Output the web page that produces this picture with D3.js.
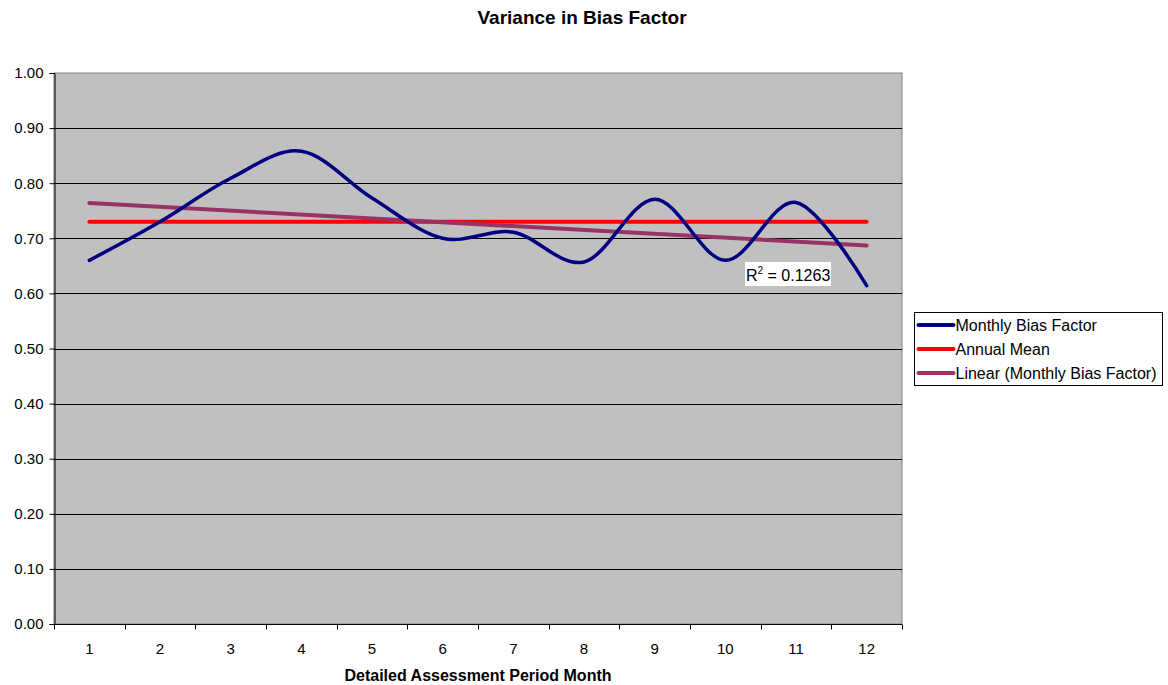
<!DOCTYPE html>
<html>
<head>
<meta charset="utf-8">
<script src="https://cdn.jsdelivr.net/npm/d3@7"></script>
<style>
  html, body { margin: 0; padding: 0; background: #fff; }
  svg { display: block; font-family: "Liberation Sans", Arial, sans-serif; }
</style>
</head>
<body>
<svg id="chart" width="1168" height="685"></svg>
<script>
// Months of the detailed assessment period
const months = [1, 2, 3, 4, 5, 6, 7, 8, 9, 10, 11, 12];
// Monthly bias factor
const biasFactor = [0.660, 0.730, 0.809, 0.858, 0.773, 0.700, 0.711, 0.657, 0.771, 0.660, 0.765, 0.614];
// Annual mean (flat reference line)
const annualMean = [0.73, 0.73, 0.73, 0.73, 0.73, 0.73, 0.73, 0.73, 0.73, 0.73, 0.73, 0.73];
// Y axis ticks
const yTicks = [0, 0.1, 0.2, 0.3, 0.4, 0.5, 0.6, 0.7, 0.8, 0.9, 1.0];
const seriesNames = ["Monthly Bias Factor", "Annual Mean", "Linear (Monthly Bias Factor)"];
const rSquaredText = "0.1263";

const svg = d3.select("#chart");
const plot = { left: 54, right: 902, top: 73, bottom: 624 };

const x = d3.scaleBand().domain(months).range([plot.left, plot.right]);
const xc = m => x(m) + x.bandwidth() / 2;
const y = d3.scaleLinear().domain([0, 1]).range([plot.bottom, plot.top]);

// Plot area
svg.append("rect")
  .attr("x", plot.left).attr("y", plot.top)
  .attr("width", plot.right - plot.left).attr("height", plot.bottom - plot.top)
  .attr("fill", "#c0c0c0").attr("stroke", "#808080").attr("stroke-width", 1);

// Horizontal gridlines
svg.append("g").selectAll("line")
  .data(yTicks.filter(t => t > 0 && t < 1))
  .join("line")
  .attr("x1", plot.left).attr("x2", plot.right)
  .attr("y1", d => Math.round(y(d)) + 0.5).attr("y2", d => Math.round(y(d)) + 0.5)
  .attr("stroke", "#000").attr("stroke-width", 1);

// Y axis
const yAxis = svg.append("g")
  .attr("transform", `translate(${plot.left + 0.5},0)`)
  .call(d3.axisLeft(y).tickValues(yTicks).tickFormat(d3.format(".2f")).tickSize(5).tickPadding(6));
yAxis.select(".domain").attr("stroke", "#000");
yAxis.selectAll(".tick line").attr("stroke", "#000");
yAxis.selectAll(".tick text").attr("font-size", 15).attr("fill", "#000")
  .attr("font-family", "Liberation Sans, Arial, sans-serif");

// X axis: ticks on category boundaries, labels centred in each band
const xg = svg.append("g").attr("transform", `translate(0,${plot.bottom + 0.5})`);
xg.append("line").attr("x1", plot.left).attr("x2", plot.right).attr("stroke", "#000");
const boundaries = months.map(m => x(m)).concat([plot.right]);
xg.selectAll("line.tk").data(boundaries).join("line").attr("class", "tk")
  .attr("x1", d => Math.round(d) + 0.5).attr("x2", d => Math.round(d) + 0.5)
  .attr("y1", 0).attr("y2", 5).attr("stroke", "#000");
xg.selectAll("text").data(months).join("text")
  .attr("x", d => xc(d)).attr("y", 29)
  .attr("text-anchor", "middle").attr("font-size", 15).attr("fill", "#000")
  .text(d => d);

// Linear trend from least-squares fit of the monthly bias factor
const mx = d3.mean(months), my = d3.mean(biasFactor);
const sxy = d3.sum(months, (m, i) => (m - mx) * (biasFactor[i] - my));
const sxx = d3.sum(months, m => (m - mx) * (m - mx));
const slope = sxy / sxx, intercept = my - slope * mx;
const trend = [months[0], months[months.length - 1]].map(m => ({ m, v: intercept + slope * m }));

const straight = d3.line().x(d => xc(d.m)).y(d => y(d.v));

// Annual mean
svg.append("path")
  .datum(months.map((m, i) => ({ m, v: annualMean[i] })))
  .attr("d", straight).attr("fill", "none")
  .attr("stroke", "#ff0000").attr("stroke-width", 4).attr("stroke-linecap", "round");

// Trend line
svg.append("path")
  .datum(trend)
  .attr("d", straight).attr("fill", "none")
  .attr("stroke", "#993366").attr("stroke-width", 4).attr("stroke-linecap", "round");

// Monthly bias factor (smoothed)
const smooth = d3.line().x(d => xc(d.m)).y(d => y(d.v)).curve(d3.curveCardinal.tension(0));
svg.append("path")
  .datum(months.map((m, i) => ({ m, v: biasFactor[i] })))
  .attr("d", smooth).attr("fill", "none")
  .attr("stroke", "#000080").attr("stroke-width", 3.5)
  .attr("stroke-linecap", "round").attr("stroke-linejoin", "round");

// R-squared label
const rg = svg.append("g").attr("transform", "translate(745,262)");
rg.append("rect").attr("width", 86).attr("height", 24).attr("fill", "#fff");
const rt = rg.append("text").attr("x", 1).attr("y", 19).attr("font-size", 16).attr("fill", "#000");
rt.append("tspan").text("R");
rt.append("tspan").attr("font-size", 10).attr("dy", -7).text("2");
rt.append("tspan").attr("dy", 7).text(" = " + rSquaredText);

// Title
svg.append("text")
  .attr("x", 582).attr("y", 24)
  .attr("text-anchor", "middle").attr("font-size", 19).attr("font-weight", "bold")
  .text("Variance in Bias Factor");

// X axis title
svg.append("text")
  .attr("x", (plot.left + plot.right) / 2).attr("y", 681)
  .attr("text-anchor", "middle").attr("font-size", 16).attr("font-weight", "bold")
  .text("Detailed Assessment Period Month");

// Legend
const lg = svg.append("g").attr("transform", "translate(914.5,312.5)");
lg.append("rect").attr("width", 248).attr("height", 73)
  .attr("fill", "#fff").attr("stroke", "#000").attr("stroke-width", 1);
const legendColors = ["#000080", "#ff0000", "#993366"];
seriesNames.forEach((name, i) => {
  const yy = 12.5 + i * 24;
  lg.append("line").attr("x1", 4).attr("x2", 39).attr("y1", yy).attr("y2", yy)
    .attr("stroke", legendColors[i]).attr("stroke-width", 4).attr("stroke-linecap", "round");
  lg.append("text").attr("x", 41).attr("y", yy + 6).attr("font-size", 16).attr("fill", "#000").text(name);
});
</script>
</body>
</html>
